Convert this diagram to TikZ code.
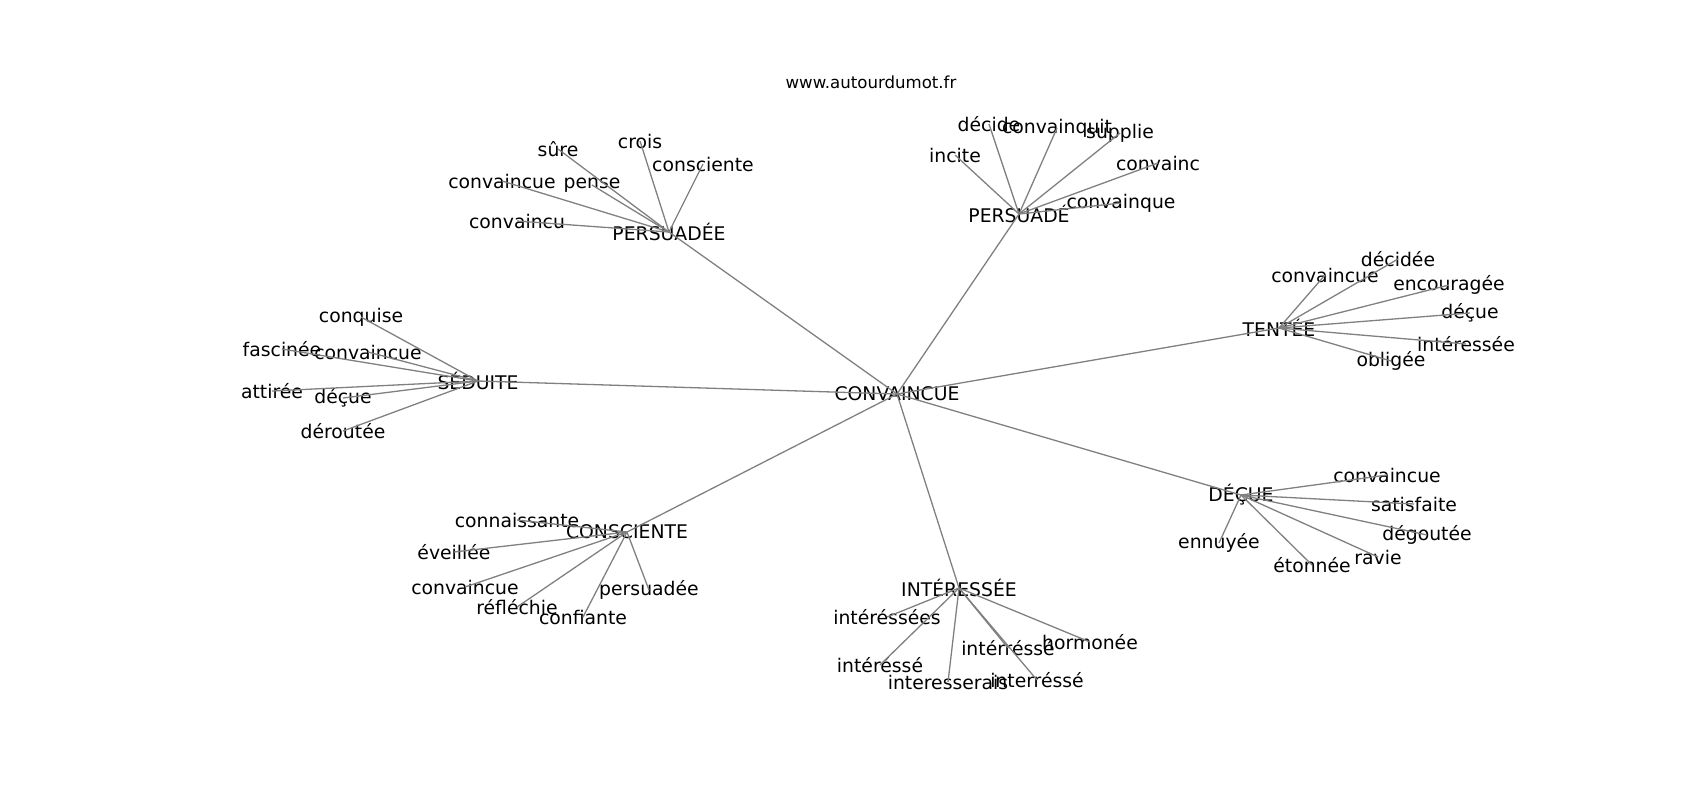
\documentclass[tikz,border=0pt]{standalone}
\usepackage{fontspec}
\setmainfont{DejaVu Sans}
\usepackage{tikz}

\begin{document}
\begin{tikzpicture}[x=.5pt,y=-.5pt,
  word/.style={font=\fontsize{9.4}{11}\selectfont,inner sep=0},
  link/.style={draw=gray,line width=.65pt}]
\useasboundingbox (0,0) rectangle (1700,800);

% Title
\node (title) at (871,82) [font=\fontsize{8.3}{10}\selectfont,inner sep=0] {www.autourdumot.fr};

% Centre
\node (convaincue) at (897,394) [word] {CONVAINCUE};

% Persuadee
\node (persuadee) at (669,232) [word] {PERSUADÉE};
\node (pesure) at (558,149) [word] {sûre};
\node (pecrois) at (640,141) [word] {crois};
\node (peconsciente) at (703,164) [word] {consciente};
\node (peconvaincue) at (502,181) [word] {convaincue};
\node (pepense) at (592,185) [word] {pense};
\node (peconvaincu) at (517,221) [word] {convaincu};
\draw[link] (convaincue.center) -- (persuadee.center);
\draw[link] (persuadee.center) -- (pesure.center);
\draw[link] (persuadee.center) -- (pecrois.center);
\draw[link] (persuadee.center) -- (peconsciente.center);
\draw[link] (persuadee.center) -- (peconvaincue.center);
\draw[link] (persuadee.center) -- (pepense.center);
\draw[link] (persuadee.center) -- (peconvaincu.center);

% Persuade
\node (persuade) at (1019,214) [word] {PERSUADÉ};
\node (pudecide) at (989,124) [word] {décide};
\node (puconvainquit) at (1057,128) [word] {convainquit};
\node (pusupplie) at (1120,133) [word] {supplie};
\node (puincite) at (955,155) [word] {incite};
\node (puconvainc) at (1158,163) [word] {convainc};
\node (puconvainque) at (1121,203) [word] {convainque};
\draw[link] (convaincue.center) -- (persuade.center);
\draw[link] (persuade.center) -- (pudecide.center);
\draw[link] (persuade.center) -- (puconvainquit.center);
\draw[link] (persuade.center) -- (pusupplie.center);
\draw[link] (persuade.center) -- (puincite.center);
\draw[link] (persuade.center) -- (puconvainc.center);
\draw[link] (persuade.center) -- (puconvainque.center);

% Tentee
\node (tentee) at (1279,328) [word] {TENTÉE};
\node (tedecidee) at (1398,259) [word] {décidée};
\node (teconvaincue) at (1325,275) [word] {convaincue};
\node (teencouragee) at (1449,285) [word] {encouragée};
\node (tedecue) at (1470,313) [word] {déçue};
\node (teinteressee) at (1466,344) [word] {intéressée};
\node (teobligee) at (1391,361) [word] {obligée};
\draw[link] (convaincue.center) -- (tentee.center);
\draw[link] (tentee.center) -- (tedecidee.center);
\draw[link] (tentee.center) -- (teconvaincue.center);
\draw[link] (tentee.center) -- (teencouragee.center);
\draw[link] (tentee.center) -- (tedecue.center);
\draw[link] (tentee.center) -- (teinteressee.center);
\draw[link] (tentee.center) -- (teobligee.center);

% Seduite
\node (seduite) at (478,381) [word] {SÉDUITE};
\node (seconquise) at (361,317) [word] {conquise};
\node (sefascinee) at (282,349) [word] {fascinée};
\node (seconvaincue) at (368,352) [word] {convaincue};
\node (seattiree) at (272,391) [word] {attirée};
\node (sedecue) at (343,398) [word] {déçue};
\node (sederoutee) at (343,431) [word] {déroutée};
\draw[link] (convaincue.center) -- (seduite.center);
\draw[link] (seduite.center) -- (seconquise.center);
\draw[link] (seduite.center) -- (sefascinee.center);
\draw[link] (seduite.center) -- (seconvaincue.center);
\draw[link] (seduite.center) -- (seattiree.center);
\draw[link] (seduite.center) -- (sedecue.center);
\draw[link] (seduite.center) -- (sederoutee.center);

% Consciente
\node (consciente) at (627,532) [word] {CONSCIENTE};
\node (coconnaissante) at (517,520) [word] {connaissante};
\node (coeveillee) at (454,552) [word] {éveillée};
\node (coconvaincue) at (465,587) [word] {convaincue};
\node (copersuadee) at (649,590) [word] {persuadée};
\node (coreflechie) at (517,607) [word] {réfléchie};
\node (coconfiante) at (583,617) [word] {confiante};
\draw[link] (convaincue.center) -- (consciente.center);
\draw[link] (consciente.center) -- (coconnaissante.center);
\draw[link] (consciente.center) -- (coeveillee.center);
\draw[link] (consciente.center) -- (coconvaincue.center);
\draw[link] (consciente.center) -- (copersuadee.center);
\draw[link] (consciente.center) -- (coreflechie.center);
\draw[link] (consciente.center) -- (coconfiante.center);

% Interessee
\node (interessee) at (959,588) [word] {INTÉRESSÉE};
\node (inpluriel) at (887,617) [word] {intéréssées};
\node (inirr) at (1008,648) [word] {intérréssé};
\node (inhormonee) at (1090,642) [word] {hormonée};
\node (inaccent) at (880,665) [word] {intéréssé};
\node (inconditionnel) at (948,682) [word] {interesserais};
\node (inrr) at (1037,680) [word] {interréssé};
\draw[link] (convaincue.center) -- (interessee.center);
\draw[link] (interessee.center) -- (inpluriel.center);
\draw[link] (interessee.center) -- (inirr.center);
\draw[link] (interessee.center) -- (inhormonee.center);
\draw[link] (interessee.center) -- (inaccent.center);
\draw[link] (interessee.center) -- (inconditionnel.center);
\draw[link] (interessee.center) -- (inrr.center);

% Decue
\node (decue) at (1241,495) [word] {DÉÇUE};
\node (deconvaincue) at (1387,475) [word] {convaincue};
\node (desatisfaite) at (1414,504) [word] {satisfaite};
\node (degoutee) at (1427,535) [word] {dégoutée};
\node (deennuyee) at (1219,543) [word] {ennuyée};
\node (deetonnee) at (1312,565) [word] {étonnée};
\node (deravie) at (1378,557) [word] {ravie};
\draw[link] (convaincue.center) -- (decue.center);
\draw[link] (decue.center) -- (deconvaincue.center);
\draw[link] (decue.center) -- (desatisfaite.center);
\draw[link] (decue.center) -- (degoutee.center);
\draw[link] (decue.center) -- (deennuyee.center);
\draw[link] (decue.center) -- (deetonnee.center);
\draw[link] (decue.center) -- (deravie.center);

\end{tikzpicture}
\end{document}
